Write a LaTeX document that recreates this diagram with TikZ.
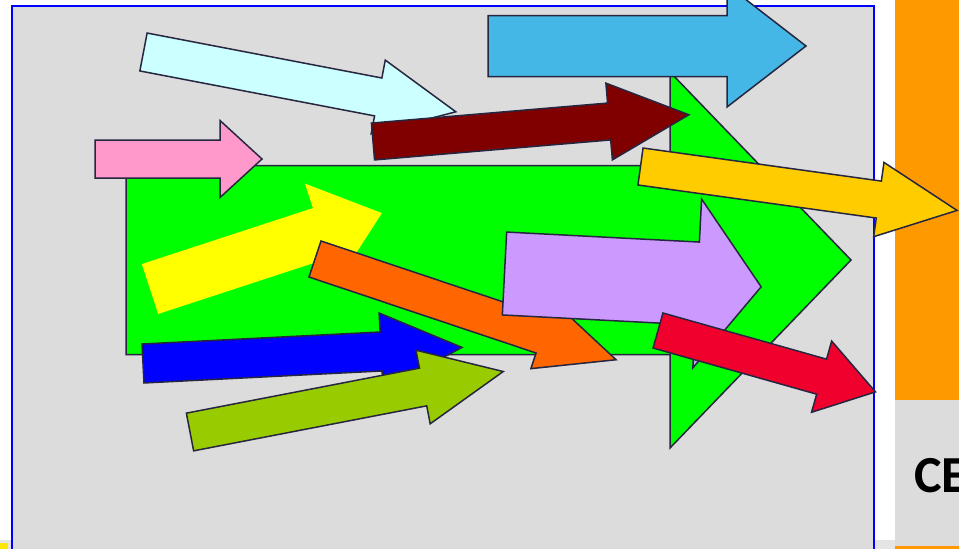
\documentclass[tikz,border=0pt]{standalone}
\usepackage{fontspec}
\setmainfont{Carlito}
\definecolor{panelgray}{HTML}{DCDCDC}
\definecolor{edge}{HTML}{262640}
\definecolor{cOrangeBar}{HTML}{FF9900}
\definecolor{cGreen}{HTML}{00FF00}
\definecolor{cPink}{HTML}{FF99CC}
\definecolor{cCyan}{HTML}{CCFFFF}
\definecolor{cMaroon}{HTML}{800000}
\definecolor{cSky}{HTML}{45B7E6}
\definecolor{cGold}{HTML}{FFCC00}
\definecolor{cYellow}{HTML}{FFFF00}
\definecolor{cOrange}{HTML}{FF6600}
\definecolor{cLav}{HTML}{CC99FF}
\definecolor{cRed}{HTML}{F0002C}
\definecolor{cBlue}{HTML}{0000FF}
\definecolor{cOlive}{HTML}{99CC00}
\tikzset{
  blockarrow/.style={draw=edge, line width=1.5pt, line join=miter, fill=#1},
  plainarrow/.style={fill=#1},
}
% tail centre x, y (pixels), rotation, length, shaft width, head width, head length, style
\newcommand\farrow[8]{%
\begin{scope}[shift={(#1,#2)},rotate=#3]
\path[#8] (0,{-(#5)/2}) -- ({#4-#7},{-(#5)/2}) -- ({#4-#7},{-(#6)/2}) -- (#4,0)
  -- ({#4-#7},{(#6)/2}) -- ({#4-#7},{(#5)/2}) -- (0,{(#5)/2}) -- cycle;
\end{scope}}
\begin{document}
\begin{tikzpicture}[x=1pt,y=-1pt]
\useasboundingbox (0,0) rectangle (959,549);
\clip (0,0) rectangle (959,549);
\fill[white] (0,0) rectangle (959,549);
% bottom strip
\fill[gray!20] (0,540) rectangle (895,549);
\fill[yellow!90!orange] (0,543) rectangle (8,549);
% right side
\fill[cOrangeBar] (895,0) rectangle (959,400);
\fill[panelgray] (895,400) rectangle (959,546);
\fill[cOrangeBar] (895,546) rectangle (959,549);
\node[anchor=base west, inner sep=0pt, font=\fontsize{52}{60}\selectfont\bfseries] (ce) at (914,492) {CE};
% main panel
\draw[fill=panelgray, draw=blue, line width=2pt] (12,6) rectangle (874,560);
% arrows
\farrow{126}{260}{0}{725}{189}{376}{181}{blockarrow=cGreen}
\farrow{95}{159}{0}{167}{38}{77}{42}{blockarrow=cPink}
\farrow{143.5}{52}{-10.84}{318}{38.6}{75}{79}{blockarrow=cCyan}
\farrow{373}{141.5}{4.84}{317}{37}{77}{80}{blockarrow=cMaroon}
\farrow{488}{46}{0}{318}{61}{122}{79}{blockarrow=cSky}
\farrow{640.5}{166.5}{-7.9}{319.6}{37.3}{75}{79}{blockarrow=cGold}
\farrow{150}{289}{18.13}{244}{52.5}{104}{64}{plainarrow=cYellow}
\farrow{315}{259}{-18.5}{317.5}{38}{71}{78}{blockarrow=cOrange}
\farrow{504.5}{273.5}{-2.97}{257}{83}{169}{64}{blockarrow=cLav}
\farrow{658}{330.5}{-15.76}{226}{36.4}{74}{56}{blockarrow=cRed}
\farrow{143}{363.5}{2.89}{319.4}{39}{77}{81}{blockarrow=cBlue}
\farrow{190}{432}{10.93}{319}{38.4}{75}{81.6}{blockarrow=cOlive}
\end{tikzpicture}
\end{document}
